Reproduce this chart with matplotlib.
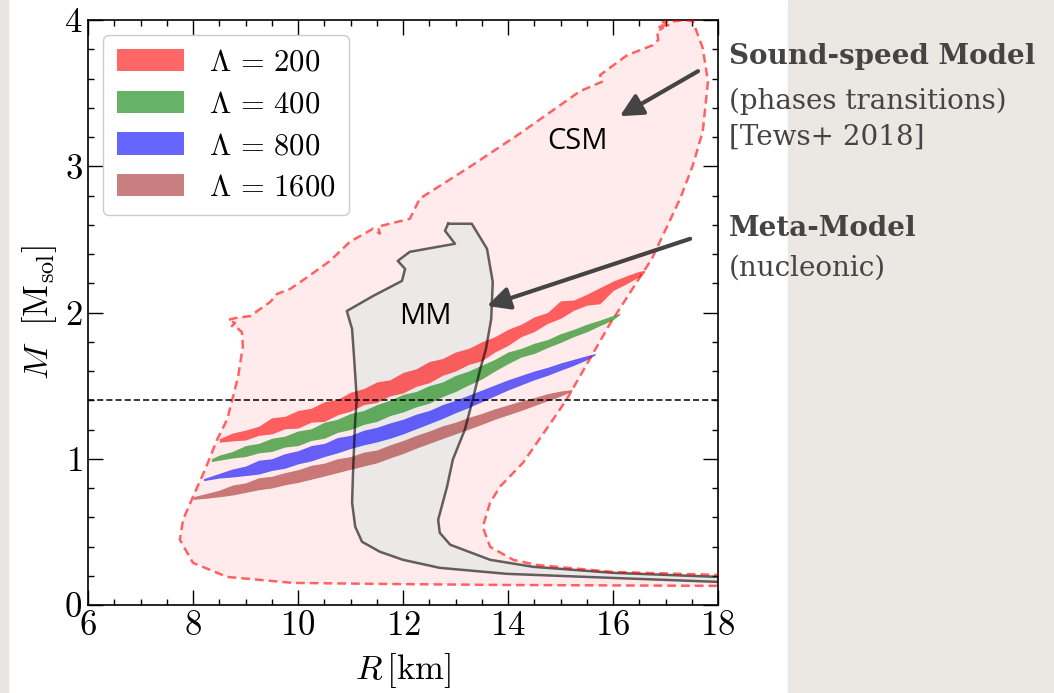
import matplotlib
matplotlib.use("Agg")
import matplotlib.pyplot as plt
from matplotlib.patches import Rectangle
from matplotlib.ticker import MultipleLocator

plt.rcParams['font.family'] = 'serif'
plt.rcParams['font.serif'] = ['cmr10']
plt.rcParams['mathtext.fontset'] = 'cm'
plt.rcParams['axes.unicode_minus'] = False
plt.rcParams['axes.formatter.use_mathtext'] = True

# constant tidal deformability bands: radius [km], lower / upper mass [Msol]
R200 = [8.50, 8.75, 9.00, 9.25, 9.50, 9.75, 10.00, 10.25, 10.50, 10.75, 11.00, 11.25,
        11.50, 11.75, 12.00, 12.25, 12.50, 12.75, 13.00, 13.25, 13.50, 13.75, 14.00,
        14.25, 14.50, 14.75, 15.00, 15.25, 15.50, 15.75, 16.00, 16.25, 16.50, 16.60]
lo200 = [1.113, 1.122, 1.128, 1.160, 1.170, 1.205, 1.210, 1.250, 1.255, 1.300, 1.325, 1.370,
         1.385, 1.430, 1.450, 1.495, 1.520, 1.570, 1.600, 1.645, 1.670, 1.730, 1.775,
         1.835, 1.870, 1.925, 1.960, 2.015, 2.050, 2.060, 2.150, 2.195, 2.245, 2.272]
hi200 = [1.137, 1.175, 1.196, 1.222, 1.280, 1.290, 1.330, 1.345, 1.390, 1.405, 1.455, 1.480,
         1.525, 1.540, 1.590, 1.615, 1.665, 1.685, 1.730, 1.755, 1.800, 1.835, 1.885,
         1.920, 1.970, 2.000, 2.080, 2.085, 2.125, 2.170, 2.215, 2.250, 2.282, 2.288]

R400 = [8.35, 8.50, 8.75, 9.00, 9.25, 9.50, 9.75, 10.00, 10.25, 10.50, 10.75, 11.00,
        11.25, 11.50, 11.75, 12.00, 12.25, 12.50, 12.75, 13.00, 13.25, 13.50, 13.75,
        14.00, 14.25, 14.50, 14.75, 15.00, 15.25, 15.50, 15.75, 16.00, 16.13]
lo400 = [0.980, 0.990, 1.005, 1.015, 1.040, 1.050, 1.080, 1.090, 1.125, 1.140, 1.180, 1.200,
         1.235, 1.255, 1.295, 1.320, 1.355, 1.380, 1.425, 1.460, 1.505, 1.545, 1.600,
         1.650, 1.695, 1.720, 1.760, 1.795, 1.835, 1.868, 1.910, 1.950, 1.985]
hi400 = [1.000, 1.025, 1.050, 1.090, 1.105, 1.140, 1.155, 1.190, 1.205, 1.250, 1.270, 1.310,
         1.330, 1.370, 1.400, 1.440, 1.460, 1.500, 1.525, 1.570, 1.600, 1.640, 1.680,
         1.730, 1.755, 1.790, 1.815, 1.855, 1.885, 1.920, 1.948, 1.980, 1.995]

R800 = [8.20, 8.50, 8.75, 9.00, 9.25, 9.50, 9.75, 10.00, 10.25, 10.50, 10.75, 11.00,
        11.25, 11.50, 11.75, 12.00, 12.25, 12.50, 12.75, 13.00, 13.25, 13.50, 13.75,
        14.00, 14.25, 14.50, 14.75, 15.00, 15.25, 15.50, 15.66]
lo800 = [0.850, 0.868, 0.875, 0.885, 0.895, 0.920, 0.935, 0.965, 0.985, 1.015, 1.040, 1.070,
         1.095, 1.115, 1.140, 1.170, 1.205, 1.240, 1.275, 1.315, 1.350, 1.390, 1.430,
         1.470, 1.505, 1.540, 1.570, 1.605, 1.638, 1.677, 1.710]
hi800 = [0.864, 0.900, 0.930, 0.950, 0.990, 1.000, 1.035, 1.055, 1.090, 1.105, 1.145, 1.160,
         1.195, 1.215, 1.245, 1.270, 1.305, 1.330, 1.370, 1.400, 1.435, 1.470, 1.505,
         1.540, 1.570, 1.600, 1.625, 1.655, 1.680, 1.705, 1.720]

R1600 = [8.00, 8.25, 8.50, 8.75, 9.00, 9.25, 9.50, 9.75, 10.00, 10.25, 10.50, 10.75,
         11.00, 11.25, 11.50, 11.75, 12.00, 12.25, 12.50, 12.75, 13.00, 13.25, 13.50,
         13.75, 14.00, 14.25, 14.50, 14.75, 15.00, 15.22]
lo1600 = [0.722, 0.730, 0.740, 0.752, 0.770, 0.788, 0.800, 0.822, 0.838, 0.860, 0.882, 0.905,
          0.928, 0.950, 0.972, 1.005, 1.036, 1.072, 1.105, 1.138, 1.170, 1.202, 1.235,
          1.270, 1.300, 1.330, 1.363, 1.396, 1.428, 1.463]
hi1600 = [0.740, 0.762, 0.785, 0.820, 0.835, 0.870, 0.880, 0.905, 0.925, 0.955, 0.970, 1.000,
          1.015, 1.045, 1.060, 1.095, 1.125, 1.160, 1.190, 1.225, 1.250, 1.283, 1.310,
          1.342, 1.368, 1.395, 1.418, 1.445, 1.463, 1.473]

# sound-speed model envelope (closed outline)
csm_R = [18.51, 13.85, 11.56, 9.90, 8.65, 8.00, 7.75, 7.81, 8.00, 8.23, 8.46, 8.65, 8.76,
         8.86, 8.95, 8.93, 8.84, 8.74, 8.80, 8.67, 8.80, 9.09, 9.28, 9.47, 9.60, 9.85,
         10.13, 10.61, 10.99, 11.43, 11.56, 11.52, 12.13, 12.32, 13.28, 14.23, 14.99,
         15.37, 15.81, 15.75, 16.27, 16.76, 16.86, 16.84, 16.95, 16.84, 17.09, 16.95,
         17.22, 17.33, 17.52, 17.71, 17.81, 17.71, 17.52, 17.28, 16.74, 15.94, 15.12,
         14.86, 14.29, 13.85, 13.66, 13.52, 13.66, 14.10, 14.55, 16.00, 17.98, 18.51]
csm_M = [0.130, 0.137, 0.144, 0.151, 0.192, 0.288, 0.446, 0.583, 0.741, 0.926, 1.132, 1.269,
         1.420, 1.564, 1.770, 1.866, 1.894, 1.907, 1.928, 1.949, 1.962, 1.976, 2.024, 2.072,
         2.127, 2.161, 2.230, 2.353, 2.484, 2.573, 2.539, 2.587, 2.641, 2.779, 2.998, 3.225,
         3.417, 3.513, 3.581, 3.623, 3.760, 3.828, 3.863, 3.925, 3.945, 3.959, 3.966, 3.986,
         3.993, 4.000, 3.993, 3.808, 3.581, 3.238, 3.005, 2.779, 2.367, 1.921, 1.407, 1.269,
         0.974, 0.810, 0.700, 0.535, 0.398, 0.309, 0.274, 0.226, 0.206, 0.192]

# meta-model envelope (closed outline)
mm_R = [12.86, 13.31, 13.60, 13.71, 13.68, 13.58, 13.47, 13.33, 13.18, 12.95, 12.84, 12.67,
        12.70, 12.90, 13.66, 14.48, 16.00, 18.00, 18.51, 18.51, 18.00, 16.00, 13.98, 12.70,
        12.00, 11.56, 11.22, 11.09, 11.03, 11.05, 11.09, 11.12, 11.07, 11.03, 10.93, 11.43,
        11.98, 12.04, 11.90, 12.13, 12.99, 12.80, 12.86]
mm_M = [2.607, 2.607, 2.436, 2.209, 1.955, 1.750, 1.612, 1.407, 1.201, 0.995, 0.810, 0.583,
        0.494, 0.412, 0.309, 0.261, 0.220, 0.192, 0.185, 0.151, 0.158, 0.185, 0.213, 0.254,
        0.309, 0.364, 0.432, 0.535, 0.700, 0.926, 1.269, 1.407, 1.681, 1.887, 2.010, 2.113,
        2.216, 2.298, 2.353, 2.415, 2.470, 2.559, 2.607]

bands = [(R200, lo200, hi200, 'red', r'$\Lambda\, =\, 200$'),
         (R400, lo400, hi400, 'green', r'$\Lambda\, =\, 400$'),
         (R800, lo800, hi800, 'blue', r'$\Lambda\, =\, 800$'),
         (R1600, lo1600, hi1600, 'brown', r'$\Lambda\, =\, 1600$')]

fig = plt.figure(figsize=(10.54, 6.93), dpi=100)
# slide background strips
fig.patches.append(Rectangle((0, 0), 8 / 1054, 1, transform=fig.transFigure,
                             color='#e8e5e2', zorder=-10))
fig.patches.append(Rectangle((788 / 1054, 0), 1 - 788 / 1054, 1, transform=fig.transFigure,
                             color='#ebe8e3', zorder=-10))

ax = fig.add_axes([88 / 1054, 1 - 605 / 693, 630 / 1054, 585 / 693])

ax.fill(csm_R, csm_M, color='red', alpha=0.08, lw=0, zorder=1)
ax.fill(mm_R, mm_M, color='#ede8e8', lw=0, zorder=2)
for R, lo, hi, c, lab in bands:
    ax.fill_between(R, lo, hi, color=c, alpha=0.6, lw=0, label=lab, zorder=3)
ax.plot(mm_R, mm_M, color='k', alpha=0.6, lw=1.8, zorder=4)
ax.plot(csm_R, csm_M, color='red', alpha=0.6, lw=1.8, ls=(0, (3.5, 2)), zorder=4)
ax.axhline(1.4, color='k', lw=1.1, ls=(0, (4, 2)), zorder=5)

ax.annotate('', xy=(16.13, 3.342), xytext=(17.62, 3.650),
            arrowprops=dict(arrowstyle='-|>', lw=3, color='#444444', mutation_scale=34,
                            shrinkA=0, shrinkB=0), zorder=6)
ax.annotate('', xy=(13.60, 2.045), xytext=(17.47, 2.504),
            arrowprops=dict(arrowstyle='-|>', lw=3, color='#444444', mutation_scale=34,
                            shrinkA=0, shrinkB=0), zorder=6)
ax.text(15.33, 3.17, 'CSM', fontsize=21, family='Open Sans', ha='center', va='center')
ax.text(12.42, 1.97, 'MM', fontsize=21, family='Open Sans', ha='center', va='center')

ax.set_xlim(6, 18)
ax.set_ylim(0, 4)
ax.xaxis.set_major_locator(MultipleLocator(2))
ax.xaxis.set_minor_locator(MultipleLocator(0.5))
ax.yaxis.set_major_locator(MultipleLocator(1))
ax.yaxis.set_minor_locator(MultipleLocator(0.2))
ax.tick_params(which='both', direction='in', top=True, right=True, labelsize=25, pad=4)
ax.tick_params(which='major', length=11, width=1)
ax.tick_params(which='minor', length=4, width=1)
for s in ax.spines.values():
    s.set_linewidth(1.2)

ax.set_xlabel(r'$R\,[\mathrm{km}]$', fontsize=25, labelpad=6)
ax.set_ylabel(r'$M\ \ [\mathrm{M_{sol}}]$', fontsize=25, labelpad=4)

leg = ax.legend(loc='upper left', fontsize=22, handlelength=2.2, handleheight=0.75,
                labelspacing=0.45, borderaxespad=0.5, fancybox=True, framealpha=1,
                edgecolor='#cccccc', handletextpad=0.8, borderpad=0.45)
leg.set_zorder(10)

tx = 729 / 1054
tc = '#444444'
fig.text(tx, 1 - 57 / 693, 'Sound-speed Model', fontsize=20, fontweight='bold',
         family='DejaVu Serif', color=tc, va='center')
fig.text(tx, 1 - 101 / 693, '(phases transitions)', fontsize=20,
         family='DejaVu Serif', color=tc, va='center')
fig.text(tx, 1 - 137 / 693, '[Tews+ 2018]', fontsize=20,
         family='DejaVu Serif', color=tc, va='center')
fig.text(tx, 1 - 228 / 693, 'Meta-Model', fontsize=20, fontweight='bold',
         family='DejaVu Serif', color=tc, va='center')
fig.text(tx, 1 - 268 / 693, '(nucleonic)', fontsize=20,
         family='DejaVu Serif', color=tc, va='center')

fig.savefig('out.png', dpi=100)
